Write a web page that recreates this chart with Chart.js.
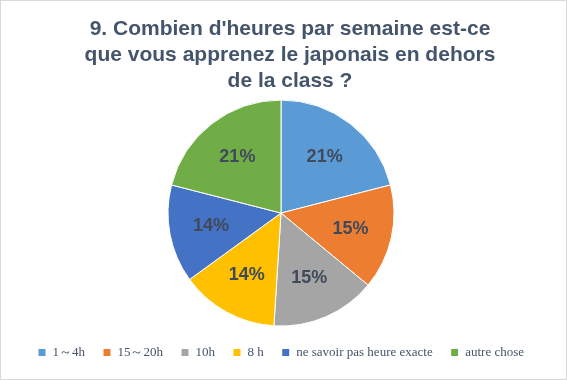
<!DOCTYPE html>
<html>
<head>
<meta charset="utf-8">
<script src="https://cdn.jsdelivr.net/npm/chart.js@4"></script>
<style>
  html,body{margin:0;padding:0;background:#fff;}
  #wrap{position:absolute;left:0;top:0;width:565px;height:378px;border:1px solid #d9d9d9;background:#fff;}
</style>
</head>
<body>
<div id="wrap"><canvas id="pie"></canvas></div>
<script>
// données
const labels  = ['1～4h','15～20h','10h','8 h','ne savoir pas heure exacte','autre chose'];
const values  = [21, 15, 15, 14, 14, 21];
const colors  = ['#5B9BD5','#ED7D31','#A5A5A5','#FFC000','#4472C4','#70AD47'];
const titleLines = ["9. Combien d'heures par semaine est-ce","que vous apprenez le japonais en dehors","de la class ?"];

// étiquettes de pourcentage dans les parts
const pctLabels = {
  id:'pctLabels',
  afterLayout(chart){
    // le titre est un peu décalé à droite dans l'original
    if(chart.titleBlock){ chart.titleBlock.left += 9; chart.titleBlock.right += 9; }
  },
  afterDatasetsDraw(chart){
    const {ctx} = chart;
    const meta  = chart.getDatasetMeta(0);
    const total = values.reduce((s,v)=>s+v,0);
    ctx.save();
    ctx.font = 'bold 18px "Liberation Sans", Arial, sans-serif';
    ctx.fillStyle = '#404A5B';
    ctx.textAlign = 'center';
    ctx.textBaseline = 'middle';
    meta.data.forEach((arc,i)=>{
      const a = (arc.startAngle+arc.endAngle)/2;
      const r = arc.outerRadius*0.63;
      ctx.fillText(Math.round(values[i]/total*100)+'%', arc.x+Math.cos(a)*r, arc.y+Math.sin(a)*r);
    });
    ctx.restore();
  }
};

new Chart(document.getElementById('pie'), {
  type:'pie',
  data:{
    labels,
    datasets:[{
      data: values,
      backgroundColor: colors,
      borderColor:'#fff',
      borderWidth:1,
      radius:113
    }]
  },
  options:{
    responsive:true, maintainAspectRatio:false, animation:false,
    layout:{padding:{top:0,bottom:10,right:5}},
    plugins:{
      title:{
        display:true,
        text:titleLines,
        color:'#44546A',
        font:{family:'"Liberation Sans", Arial, sans-serif', size:21, weight:'bold', lineHeight:1.24},
        padding:{top:15,bottom:4}
      },
      legend:{
        position:'bottom',
        labels:{
          boxWidth:8, boxHeight:8, padding:18,
          color:'#44546A',
          font:{family:'"Liberation Serif", "DejaVu Serif", serif', size:13}
        }
      },
      tooltip:{enabled:false}
    }
  },
  plugins:[pctLabels]
});
</script>
</body>
</html>
